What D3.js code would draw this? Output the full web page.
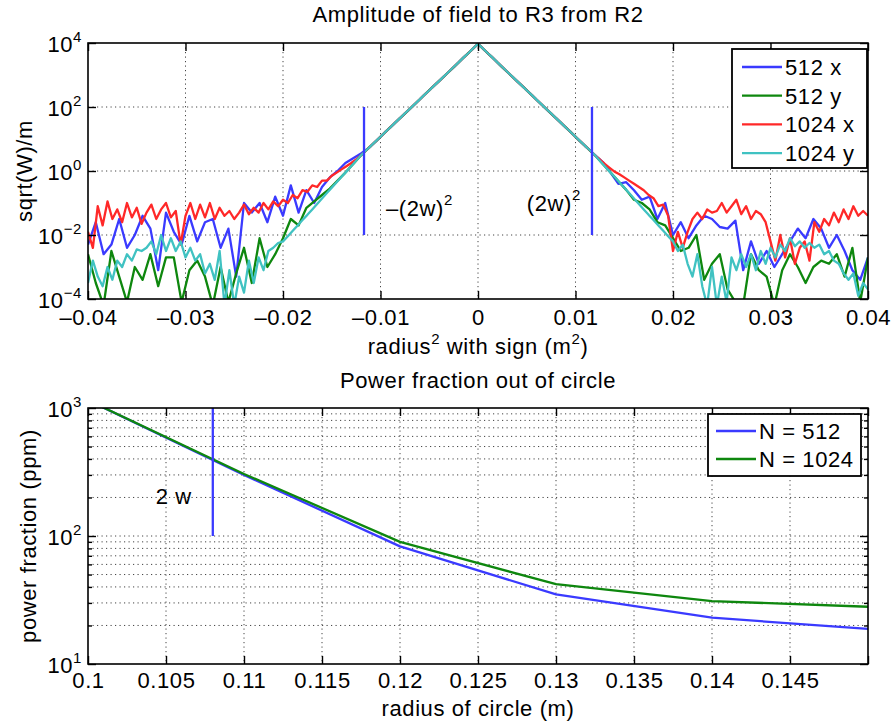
<!DOCTYPE html>
<html><head><meta charset="utf-8">
<script src="https://cdn.jsdelivr.net/npm/d3@7"></script>
<style>
body{margin:0;background:#fff}
svg text{font-family:"Liberation Sans",Arial,Helvetica,sans-serif;fill:#000;letter-spacing:0.6px}
</style></head><body>
<svg id="c" width="896" height="725"></svg>
<script>
// ---------------- DATA ----------------
// top panel: sample grids (radius^2 with sign, m^2)
const grid1024 = {start: -0.04, step: 0.0005};
const grid512  = {start: -0.04, step: 0.0008};
// log10 of sqrt(W)/m
const amp512x_log10 = [
-2.3,-1.6,-2.6,-2.3,-1.5,-2.4,-2.0,-1.4,-1.8,-3.1,
-1.3,-1.9,-2.3,-1.4,-2.2,-1.6,-1.5,-2.4,-1.8,-3.3,
-1.0,-1.3,-1.0,-1.6,-0.8,-1.4,-0.45,-1.3,-0.6,-1.0,
-0.5,-0.2,0.0,0.25,0.4,
0.55,0.72,0.95,1.19,1.42,
1.65,1.88,2.11,2.35,2.58,2.81,3.04,3.27,3.51,3.74,
3.97,
3.74,3.51,3.27,3.04,2.81,2.58,2.35,2.11,1.88,1.65,
1.42,1.19,0.95,0.72,
0.5,0.28,-0.05,-0.4,-0.35,-0.6,-0.9,-0.8,-1.5,-1.0,
-2.0,-1.6,-2.1,-1.7,-1.4,-1.5,-1.75,-1.8,-1.55,-3.1,
-2.2,-2.9,-2.5,-3.0,-2.6,-2.2,-1.8,-2.1,-1.5,-1.8,
-2.4,-2.0,-2.5,-3.1,-3.4,-2.7];
const amp512y_log10 = [
-2.6,-3.5,-4.2,-2.5,-3.3,-4.1,-3.0,-3.4,-2.6,-3.6,
-2.7,-2.7,-4.1,-3.1,-2.8,-3.3,-4.2,-3.0,-4.1,-3.2,
-2.4,-3.5,-2.1,-3.0,-2.6,-2.1,-1.5,-1.7,-1.15,-0.95,
-0.75,-0.55,-0.3,-0.05,0.22,
0.49,0.72,0.95,1.19,1.42,
1.65,1.88,2.11,2.35,2.58,2.81,3.04,3.27,3.51,3.74,
3.97,
3.74,3.51,3.27,3.04,2.81,2.58,2.35,2.11,1.88,1.65,
1.42,1.19,0.95,0.72,
0.49,0.22,-0.05,-0.32,-0.59,-0.9,-1.0,-1.2,-1.6,-1.7,
-2.1,-2.5,-2.4,-2.0,-3.4,-2.9,-2.6,-3.7,-4.1,-4.2,
-2.6,-3.1,-3.3,-4.2,-3.1,-2.6,-3.0,-3.5,-3.0,-2.8,
-2.9,-2.6,-3.3,-2.4,-4.1,-2.7];
const amp1024x_log10 = [
-1.9,-2.4,-1.1,-1.7,-0.95,-1.5,-1.2,-1.6,-1.0,-1.45,
-1.15,-1.65,-1.3,-1.05,-1.5,-1.2,-1.0,-1.45,-1.25,-2.3,
-1.4,-1.0,-1.5,-1.05,-1.45,-1.0,-1.5,-1.15,-1.4,-1.25,
-1.5,-1.3,-1.05,-1.35,-1.15,-1.3,-1.0,-1.2,-0.95,-1.1,
-0.9,-1.0,-0.75,-0.85,-0.6,-0.65,-0.45,-0.5,-0.3,-0.3,
-0.15,-0.05,0.05,0.15,0.25,0.36,
0.49,0.64,0.78,0.93,
1.07,1.22,1.36,1.51,1.65,1.8,1.94,2.09,2.23,2.38,
2.52,2.67,2.81,2.96,3.1,3.25,3.39,3.54,3.68,3.83,
3.97,
3.83,3.68,3.54,3.39,3.25,3.1,2.96,2.81,2.67,2.52,
2.38,2.23,2.09,1.94,1.8,1.65,1.51,1.36,1.22,1.07,
0.93,0.78,0.64,0.49,
0.36,0.22,0.1,-0.02,-0.1,-0.2,
-0.3,-0.4,-0.5,-0.6,-0.75,-0.85,-1.1,-1.05,-1.4,-2.5,
-1.9,-2.4,-1.9,-1.5,-1.3,-1.5,-1.2,-1.3,-1.25,-1.0,
-1.3,-1.1,-0.9,-1.35,-1.1,-1.5,-1.25,-1.35,-1.6,-2.2,
-2.8,-2.0,-2.7,-2.1,-2.9,-2.4,-2.2,-2.8,-1.6,-1.9,
-1.5,-1.7,-1.3,-1.6,-1.2,-1.5,-1.1,-1.4,-1.25,-1.4];
const amp1024y_log10 = [
-3.5,-2.8,-3.3,-3.6,-3.0,-3.4,-2.8,-3.0,-2.6,-2.8,
-2.45,-2.5,-2.4,-2.2,-2.6,-2.0,-2.5,-2.1,-2.5,-2.2,
-2.7,-2.4,-2.8,-2.6,-3.2,-2.9,-3.4,-2.5,-4.2,-3.1,
-4.2,-3.3,-3.8,-2.8,-3.5,-2.7,-3.1,-2.5,-2.4,-2.25,
-2.2,-2.04,-1.87,-1.7,-1.53,-1.37,-1.2,-1.03,-0.86,-0.69,
-0.52,-0.35,-0.18,-0.02,0.15,0.32,
0.49,0.64,0.78,0.93,
1.07,1.22,1.36,1.51,1.65,1.8,1.94,2.09,2.23,2.38,
2.52,2.67,2.81,2.96,3.1,3.25,3.39,3.54,3.68,3.83,
3.97,
3.83,3.68,3.54,3.39,3.25,3.1,2.96,2.81,2.67,2.52,
2.38,2.23,2.09,1.94,1.8,1.65,1.51,1.36,1.22,1.07,
0.93,0.78,0.64,0.49,
0.32,0.15,-0.02,-0.18,-0.35,-0.52,
-0.69,-0.86,-1.03,-1.2,-1.37,-1.53,-1.7,-1.87,-2.04,-2.2,
-2.5,-2.3,-2.9,-3.3,-2.6,-3.6,-4.2,-3.0,-4.2,-3.3,
-4.1,-2.7,-3.1,-2.6,-3.0,-2.6,-3.1,-2.5,-2.9,-2.4,
-2.7,-2.3,-2.5,-2.1,-2.35,-2.2,-2.4,-2.25,-2.4,-2.3,
-2.6,-2.5,-2.8,-2.9,-3.2,-3.4,-3.2,-3.9,-3.5,-3.7];
const topSeries = [
  {name: "512 x",  grid: grid512,  values: amp512x_log10,  color: "#3a3aff"},
  {name: "512 y",  grid: grid512,  values: amp512y_log10,  color: "#0e870e"},
  {name: "1024 x", grid: grid1024, values: amp1024x_log10, color: "#ff2828"},
  {name: "1024 y", grid: grid1024, values: amp1024y_log10, color: "#40c2c2"}
];
const markerR2 = 0.01169;            // (2w)^2
const markerSpan = [1e-2, 1e2];
const topXTicks = [-0.04,-0.03,-0.02,-0.01,0,0.01,0.02,0.03,0.04];
const topXLabels = ["\u20130.04","\u20130.03","\u20130.02","\u20130.01","0","0.01","0.02","0.03","0.04"];
const topYTicks = [1e-4,1e-2,1,1e2,1e4];
const topYExp = ["\u22124","\u22122","0","2","4"];

// bottom panel
const radius = [0.1, 0.11, 0.12, 0.13, 0.14, 0.15];
const frac512  = [1150, 300, 83, 35, 23, 18.8];
const frac1024 = [1150, 305, 90, 42, 31, 28];
const botSeries = [
  {name: "N = 512",  values: frac512,  color: "#3a3aff"},
  {name: "N = 1024", values: frac1024, color: "#0e870e"}
];
const twoW = 0.108;
const twoWSpan = [100, 1000];
const botXTicks = [0.1,0.105,0.11,0.115,0.12,0.125,0.13,0.135,0.14,0.145,0.15];
const botXLabels = ["0.1","0.105","0.11","0.115","0.12","0.125","0.13","0.135","0.14","0.145",""];
const botYTicks = [10,100,1000];
const botYExp = ["1","2","3"];
const botYMinor = [20,30,40,50,60,70,80,90,200,300,400,500,600,700,800,900];

// ---------------- DRAW ----------------
const svg = d3.select("#c");
const FS = 22, SFS = 15;
const P1 = {l: 88, r: 868, t: 43, b: 299};
const P2 = {l: 88, r: 868, t: 408, b: 664};

const xT = d3.scaleLinear().domain([-0.04, 0.04]).range([P1.l, P1.r]);
const yT = d3.scaleLog().domain([1e-4, 1e4]).range([P1.b, P1.t]);
const xB = d3.scaleLinear().domain([0.1, 0.15]).range([P2.l, P2.r]);
const yB = d3.scaleLog().domain([10, 1000]).range([P2.b, P2.t]);

const defs = svg.append("defs");
defs.append("clipPath").attr("id","clip1").append("rect")
  .attr("x",P1.l).attr("y",P1.t).attr("width",P1.r-P1.l).attr("height",P1.b-P1.t);
defs.append("clipPath").attr("id","clip2").append("rect")
  .attr("x",P2.l).attr("y",P2.t).attr("width",P2.r-P2.l).attr("height",P2.b-P2.t);

const gridStyle = s => s.attr("stroke","#444").attr("stroke-width",1).attr("stroke-dasharray","1.2,3.3");

function panelAxes(g, P, x, y, xTicks, yTicks, yMinor) {
  const gg = g.append("g");
  xTicks.filter(v => x(v) > P.l+1 && x(v) < P.r-1).forEach(v =>
    gg.append("line").attr("x1",x(v)).attr("x2",x(v)).attr("y1",P.t).attr("y2",P.b).call(gridStyle));
  yTicks.concat(yMinor).filter(v => y(v) > P.t+1 && y(v) < P.b-1).forEach(v =>
    gg.append("line").attr("x1",P.l).attr("x2",P.r).attr("y1",y(v)).attr("y2",y(v)).call(gridStyle));
}

function panelFrame(g, P, x, y, xTicks, xLabels, yTicks, yExp, yMinor, pad) {
  const tk = 8;
  const style = a => { a.select(".domain").remove(); a.selectAll("line").attr("stroke","#000").attr("stroke-width",1.4); };
  g.append("g").attr("transform",`translate(0,${P.b})`).call(d3.axisBottom(x).tickValues(xTicks).tickSize(-tk).tickFormat("")).call(style);
  g.append("g").attr("transform",`translate(0,${P.t})`).call(d3.axisTop(x).tickValues(xTicks).tickSize(-tk).tickFormat("")).call(style);
  g.append("g").attr("transform",`translate(${P.l},0)`).call(d3.axisLeft(y).tickValues(yTicks).tickSize(-tk).tickFormat("")).call(style);
  g.append("g").attr("transform",`translate(${P.r},0)`).call(d3.axisRight(y).tickValues(yTicks).tickSize(-tk).tickFormat("")).call(style);
  if (yMinor.length) {
    g.append("g").attr("transform",`translate(${P.l},0)`).call(d3.axisLeft(y).tickValues(yMinor).tickSize(-4).tickFormat("")).call(style);
    g.append("g").attr("transform",`translate(${P.r},0)`).call(d3.axisRight(y).tickValues(yMinor).tickSize(-4).tickFormat("")).call(style);
  }
  const xl = g.append("g").attr("transform",`translate(0,${P.b})`)
    .call(d3.axisBottom(x).tickValues(xTicks).tickSize(0).tickPadding(pad).tickFormat((d,i)=>xLabels[i]));
  xl.select(".domain").remove();
  xl.attr("font-size",FS).attr("font-family",null);
  xl.selectAll("text").attr("fill","#000");
  yTicks.forEach((v,i) => {
    const t = g.append("text").attr("x",P.l-6).attr("y",y(v)+9).attr("text-anchor","end").attr("font-size",FS);
    t.append("tspan").text("10");
    t.append("tspan").attr("dy",-10).attr("font-size",SFS).text(yExp[i]);
  });
  g.append("rect").attr("x",P.l).attr("y",P.t).attr("width",P.r-P.l).attr("height",P.b-P.t)
    .attr("fill","none").attr("stroke","#000").attr("stroke-width",1.6);
}

// ----- top panel -----
const g1 = svg.append("g");
panelAxes(g1, P1, xT, yT, topXTicks, topYTicks, []);
const data1 = g1.append("g").attr("clip-path","url(#clip1)");
topSeries.forEach(s => {
  const line = d3.line()
    .x((d,i) => xT(s.grid.start + i*s.grid.step))
    .y(d => yT(Math.pow(10, d)));
  data1.append("path").attr("d", line(s.values)).attr("fill","none")
    .attr("stroke", s.color).attr("stroke-width",2.3).attr("stroke-linejoin","round");
});
[-markerR2, markerR2].forEach(m =>
  data1.append("line").attr("x1",xT(m)).attr("x2",xT(m)).attr("y1",yT(markerSpan[1])).attr("y2",yT(markerSpan[0]))
    .attr("stroke","#3a3aff").attr("stroke-width",2.3));
{
  const t = g1.append("text").attr("x",xT(-markerR2)+22).attr("y",216).attr("font-size",FS);
  t.append("tspan").text("\u2013(2w)");
  t.append("tspan").attr("dy",-11).attr("font-size",SFS).text("2");
  const t2 = g1.append("text").attr("x",xT(markerR2)-11).attr("y",211).attr("font-size",FS).attr("text-anchor","end");
  t2.append("tspan").text("(2w)");
  t2.append("tspan").attr("dy",-11).attr("font-size",SFS).text("2");
}
panelFrame(g1, P1, xT, yT, topXTicks, topXLabels, topYTicks, topYExp, [], 10);

svg.append("text").attr("x",(P1.l+P1.r)/2).attr("y",22).attr("text-anchor","middle").attr("font-size",FS)
  .text("Amplitude of field to R3 from R2");
{
  const t = svg.append("text").attr("x",(P1.l+P1.r)/2).attr("y",354).attr("text-anchor","middle").attr("font-size",FS);
  t.append("tspan").text("radius");
  t.append("tspan").attr("dy",-10).attr("font-size",SFS).text("2");
  t.append("tspan").attr("dy",10).text(" with sign (m");
  t.append("tspan").attr("dy",-10).attr("font-size",SFS).text("2");
  t.append("tspan").attr("dy",10).text(")");
}
svg.append("text").attr("transform",`translate(32,${(P1.t+P1.b)/2}) rotate(-90)`).attr("text-anchor","middle")
  .attr("font-size",FS).text("sqrt(W)/m");

{
  const L = {x: 732, y: 49, w: 135, h: 119};
  const lg = svg.append("g");
  lg.append("rect").attr("x",L.x).attr("y",L.y).attr("width",L.w).attr("height",L.h)
    .attr("fill","#fff").attr("stroke","#000").attr("stroke-width",1.8);
  topSeries.forEach((s,i) => {
    const cy = 67 + i*28.7;
    lg.append("line").attr("x1",742).attr("x2",782).attr("y1",cy).attr("y2",cy).attr("stroke",s.color).attr("stroke-width",2.3);
    lg.append("text").attr("x",785).attr("y",cy+8).attr("font-size",FS).text(s.name);
  });
}

// ----- bottom panel -----
const g2 = svg.append("g");
panelAxes(g2, P2, xB, yB, botXTicks, botYTicks, botYMinor);
const data2 = g2.append("g").attr("clip-path","url(#clip2)");
botSeries.forEach(s => {
  const line = d3.line().x((d,i) => xB(radius[i])).y(d => yB(d));
  data2.append("path").attr("d", line(s.values)).attr("fill","none")
    .attr("stroke", s.color).attr("stroke-width",2.3).attr("stroke-linejoin","round");
});
data2.append("line").attr("x1",xB(twoW)).attr("x2",xB(twoW)).attr("y1",yB(twoWSpan[1])).attr("y2",yB(twoWSpan[0]))
  .attr("stroke","#3a3aff").attr("stroke-width",2.3);
g2.append("text").attr("x",xB(twoW)-21).attr("y",504).attr("text-anchor","end").attr("font-size",FS).text("2 w");
panelFrame(g2, P2, xB, yB, botXTicks, botXLabels, botYTicks, botYExp, botYMinor, 8);

svg.append("text").attr("x",(P2.l+P2.r)/2).attr("y",388).attr("text-anchor","middle").attr("font-size",FS)
  .text("Power fraction out of circle");
svg.append("text").attr("x",(P2.l+P2.r)/2).attr("y",716).attr("text-anchor","middle").attr("font-size",FS)
  .text("radius of circle (m)");
svg.append("text").attr("transform",`translate(36,${(P2.t+P2.b)/2}) rotate(-90)`).attr("text-anchor","middle")
  .attr("font-size",FS).text("power fraction (ppm)");

{
  const L = {x: 708, y: 414, w: 153, h: 62};
  const lg = svg.append("g");
  lg.append("rect").attr("x",L.x).attr("y",L.y).attr("width",L.w).attr("height",L.h)
    .attr("fill","#fff").attr("stroke","#000").attr("stroke-width",1.8);
  botSeries.forEach((s,i) => {
    const cy = 431 + i*28;
    lg.append("line").attr("x1",716).attr("x2",756).attr("y1",cy).attr("y2",cy).attr("stroke",s.color).attr("stroke-width",2.3);
    lg.append("text").attr("x",759).attr("y",cy+8).attr("font-size",FS).text(s.name);
  });
}
</script>
</body></html>
